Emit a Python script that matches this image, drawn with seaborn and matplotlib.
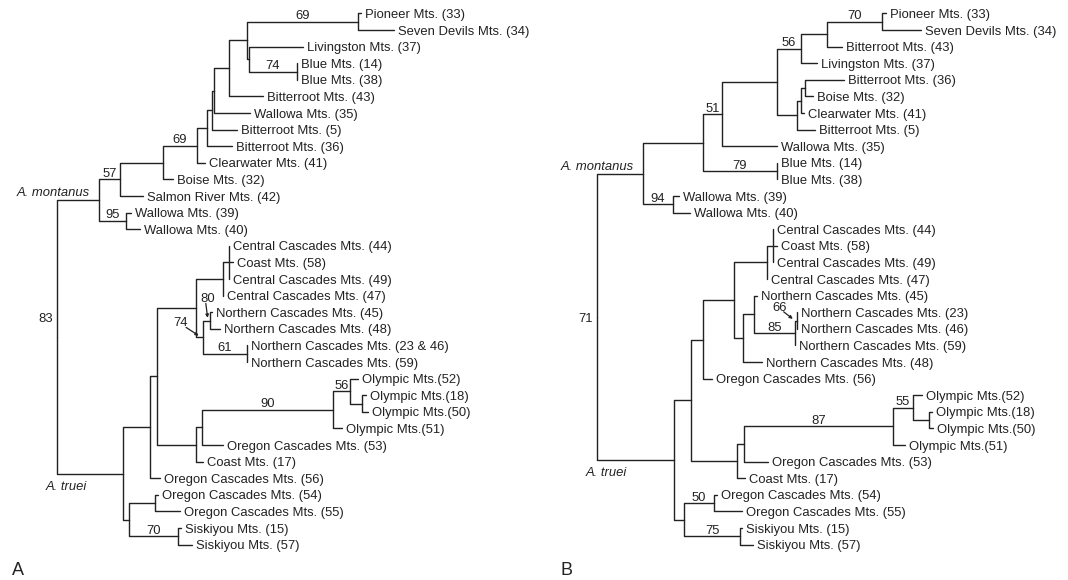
import pandas as pd
import matplotlib.pyplot as plt
import seaborn as sns

sns.set_style("white")
plt.rcParams['font.family'] = ['Liberation Sans', 'DejaVu Sans']

INK = '#222222'
FS = 9.4

# ---------------- tree A ----------------
# internal nodes: name, parent, depth from the root (drawing units)
a_node = ["root", "mon", "n57", "nbo", "n69", "nb36", "nc", "nb", "na", "nd",
          "n69t", "ne", "n74b", "n95", "tru", "nup", "nx", "nnc", "ncc", "n44",
          "n74", "n80", "n61", "nol", "n53", "n90", "n56", "n1850", "nlow",
          "n5455", "n70"]
a_node_parent = [None, "root", "mon", "n57", "nbo", "n69", "nb36", "nc", "nb", "na",
                 "nd", "nd", "ne", "mon", "root", "tru", "nup", "nx", "nnc", "ncc",
                 "nnc", "n74", "n74", "nx", "nol", "n53", "n90", "n56", "tru",
                 "nlow", "nlow"]
a_node_depth = [0, 42, 63, 106, 140, 150, 155, 157, 172, 190,
                301, 192, 240, 69, 66, 93, 100, 139, 166, 172,
                146, 153, 190, 139, 145, 276, 293, 305, 72,
                98, 121]

a_leaf = ["Pioneer Mts. (33)", "Seven Devils Mts. (34)", "Livingston Mts. (37)",
          "Blue Mts. (14)", "Blue Mts. (38)", "Bitterroot Mts. (43)",
          "Wallowa Mts. (35)", "Bitterroot Mts. (5)", "Bitterroot Mts. (36)",
          "Clearwater Mts. (41)", "Boise Mts. (32)", "Salmon River Mts. (42)",
          "Wallowa Mts. (39)", "Wallowa Mts. (40)", "Central Cascades Mts. (44)",
          "Coast Mts. (58)", "Central Cascades Mts. (49)", "Central Cascades Mts. (47)",
          "Northern Cascades Mts. (45)", "Northern Cascades Mts. (48)",
          "Northern Cascades Mts. (23 & 46)", "Northern Cascades Mts. (59)",
          "Olympic Mts.(52)", "Olympic Mts.(18)", "Olympic Mts.(50)", "Olympic Mts.(51)",
          "Oregon Cascades Mts. (53)", "Coast Mts. (17)", "Oregon Cascades Mts. (56)",
          "Oregon Cascades Mts. (54)", "Oregon Cascades Mts. (55)",
          "Siskiyou Mts. (15)", "Siskiyou Mts. (57)"]
a_leaf_parent = ["n69t", "n69t", "ne", "n74b", "n74b", "na", "nb", "nc", "nb36",
                 "n69", "nbo", "n57", "n95", "n95", "n44", "n44", "n44", "ncc",
                 "n80", "n80", "n61", "n61", "n56", "n1850", "n1850", "n90",
                 "n53", "nol", "nup", "n5455", "n5455", "n70", "n70"]
a_leaf_depth = [304, 337, 246, 240, 240, 206, 193, 180, 175, 148, 116, 86, 74, 83,
                172, 176, 172, 166, 155, 163, 190, 190, 301, 309, 311, 285,
                166, 146, 103, 101, 123, 124, 135]

a_support = {"n69t": 69, "n74b": 74, "n69": 69, "n57": 57, "n95": 95, "root": 83,
             "n80": 80, "n74": 74, "n61": 61, "n90": 90, "n56": 56, "n70": 70}

# ---------------- tree B ----------------
b_node = ["root", "mon", "nP", "n51", "nQ", "n56", "nS", "n70", "nR", "nT", "nU",
          "n79", "n94", "tru", "nup", "nV", "nW", "ncc", "n44", "nN", "n85p", "n85",
          "n66", "nol", "n53", "n87", "n55", "n1850", "nlow", "n50", "n75"]
b_node_parent = [None, "root", "mon", "nP", "n51", "nQ", "n56", "nS", "nQ", "nR", "nT",
                 "nP", "mon", "root", "tru", "nup", "nV", "nW", "ncc", "nW", "nN", "n85p",
                 "n85", "nup", "nol", "n53", "n87", "n55", "tru", "nlow", "nlow"]
b_node_depth = [0, 46, 106, 125, 180, 204, 230, 285, 200, 204, 208,
                180, 76, 77, 94, 106, 137, 170, 176, 146, 157, 198,
                200, 140, 147, 296, 316, 332, 87, 117, 143]

b_leaf = ["Pioneer Mts. (33)", "Seven Devils Mts. (34)", "Bitterroot Mts. (43)",
          "Livingston Mts. (37)", "Bitterroot Mts. (36)", "Boise Mts. (32)",
          "Clearwater Mts. (41)", "Bitterroot Mts. (5)", "Wallowa Mts. (35)",
          "Blue Mts. (14)", "Blue Mts. (38)", "Wallowa Mts. (39)", "Wallowa Mts. (40)",
          "Central Cascades Mts. (44)", "Coast Mts. (58)", "Central Cascades Mts. (49)",
          "Central Cascades Mts. (47)", "Northern Cascades Mts. (45)",
          "Northern Cascades Mts. (23)", "Northern Cascades Mts. (46)",
          "Northern Cascades Mts. (59)", "Northern Cascades Mts. (48)",
          "Oregon Cascades Mts. (56)", "Olympic Mts.(52)", "Olympic Mts.(18)",
          "Olympic Mts.(50)", "Olympic Mts.(51)", "Oregon Cascades Mts. (53)",
          "Coast Mts. (17)", "Oregon Cascades Mts. (54)", "Oregon Cascades Mts. (55)",
          "Siskiyou Mts. (15)", "Siskiyou Mts. (57)"]
b_leaf_parent = ["n70", "n70", "nS", "n56", "nU", "nU", "nT", "nR", "n51", "n79", "n79",
                 "n94", "n94", "n44", "n44", "n44", "ncc", "n85p", "n66", "n66", "n85",
                 "nN", "nV", "n55", "n1850", "n1850", "n87", "n53", "nol", "n50", "n50",
                 "n75", "n75"]
b_leaf_depth = [289, 324, 245, 220, 247, 216, 207, 218, 180, 180, 180, 82, 93,
                176, 180, 176, 170, 160, 200, 200, 198, 165, 115, 325, 335, 336, 308,
                171, 148, 120, 145, 145, 156]

b_support = {"n70": 70, "n56": 56, "n51": 51, "n79": 79, "n94": 94, "root": 71,
             "n66": 66, "n85": 85, "n87": 87, "n55": 55, "n50": 50, "n75": 75}

# supports drawn with an arrow: label offset (pixels) and arrow start on the label box
a_arrows = {"n80": ((0, 22), (0.35, 0.1)), "n74": ((-20, 14), (0.85, 0.15))}
b_arrows = {"n66": ((-15, 13), (0.75, 0.15))}


def layout(node, node_parent, node_depth, leaf_parent, leaf_depth):
    x = dict(zip(node, node_depth))
    parent = dict(zip(node, node_parent))
    kids = {n: [] for n in node}
    y = {}
    for i, (p, d) in enumerate(zip(leaf_parent, leaf_depth)):
        key = ("leaf", i)
        x[key], parent[key], y[key] = d, p, i
        kids[p].append(key)
    for n, p in zip(node, node_parent):
        if p is not None:
            kids[p].append(n)

    def get_y(n):
        if n not in y:
            cy = [get_y(c) for c in kids[n]]
            y[n] = (min(cy) + max(cy)) / 2
        return y[n]

    for n in node:
        get_y(n)
    return x, y, parent


def draw_tree(ax, node, node_parent, node_depth, leaf, leaf_parent, leaf_depth,
              support, arrows, xlim):
    x, y, parent = layout(node, node_parent, node_depth, leaf_parent, leaf_depth)

    rows = []
    for seg, (k, p) in enumerate(parent.items()):
        if p is None:
            continue
        rows += [(seg, x[p], y[p]), (seg, x[p], y[k]), (seg, x[k], y[k])]
    segs = pd.DataFrame(rows, columns=['seg', 'x', 'y'])
    sns.lineplot(data=segs, x='x', y='y', units='seg', estimator=None, sort=False,
                 color=INK, linewidth=1.0, legend=False, ax=ax)

    for i, lab in enumerate(leaf):
        ax.annotate(lab, xy=(leaf_depth[i], i), xytext=(4, -1.5),
                    textcoords='offset pixels', fontsize=FS, color=INK,
                    ha='left', va='center')

    for n, v in support.items():
        if n == "root":
            ax.annotate(str(v), xy=(x[n], 18.4), xytext=(-4, 0),
                        textcoords='offset pixels', ha='right', va='center',
                        fontsize=FS, color=INK)
        elif n in arrows:
            offset, rel = arrows[n]
            ax.annotate(str(v), xy=(x[n] - 2, y[n]), xytext=offset,
                        textcoords='offset pixels', ha='center', va='center',
                        fontsize=FS, color=INK,
                        arrowprops=dict(arrowstyle='-|>', color=INK, lw=0.9,
                                        mutation_scale=4.5, relpos=rel,
                                        patchA=None, shrinkA=0, shrinkB=2))
        else:
            ax.annotate(str(v), xy=((x[parent[n]] + x[n]) / 2, y[n]), xytext=(0, 2.5),
                        textcoords='offset pixels', ha='center', va='baseline',
                        fontsize=FS, color=INK)

    ax.annotate("A. montanus", xy=(x["mon"], y["mon"]), xytext=(-9, 4),
                textcoords='offset pixels', ha='right', va='baseline',
                fontsize=FS, color=INK, style='italic')
    ax.annotate("A. truei", xy=(x["root"], y["tru"]), xytext=(-11, -16),
                textcoords='offset pixels', ha='left', va='baseline',
                fontsize=FS, color=INK, style='italic')

    ax.set_xlim(*xlim)
    ax.set_ylim(34.127, -0.813)
    ax.axis('off')


fig, (ax_a, ax_b) = plt.subplots(1, 2, figsize=(10.68, 5.8), dpi=100)
ax_a.set_position([0, 0, 0.5, 1])
ax_b.set_position([0.5, 0, 0.5, 1])

draw_tree(ax_a, a_node, a_node_parent, a_node_depth, a_leaf, a_leaf_parent,
          a_leaf_depth, a_support, a_arrows, (-57, 477))
draw_tree(ax_b, b_node, b_node_parent, b_node_depth, b_leaf, b_leaf_parent,
          b_leaf_depth, b_support, b_arrows, (-63, 471))

fig.text(12 / 1068, 1 - 575 / 580, "A", fontsize=13, color=INK, va='baseline')
fig.text(560 / 1068, 1 - 575 / 580, "B", fontsize=13, color=INK, va='baseline')

fig.savefig("out.png", dpi=100)
